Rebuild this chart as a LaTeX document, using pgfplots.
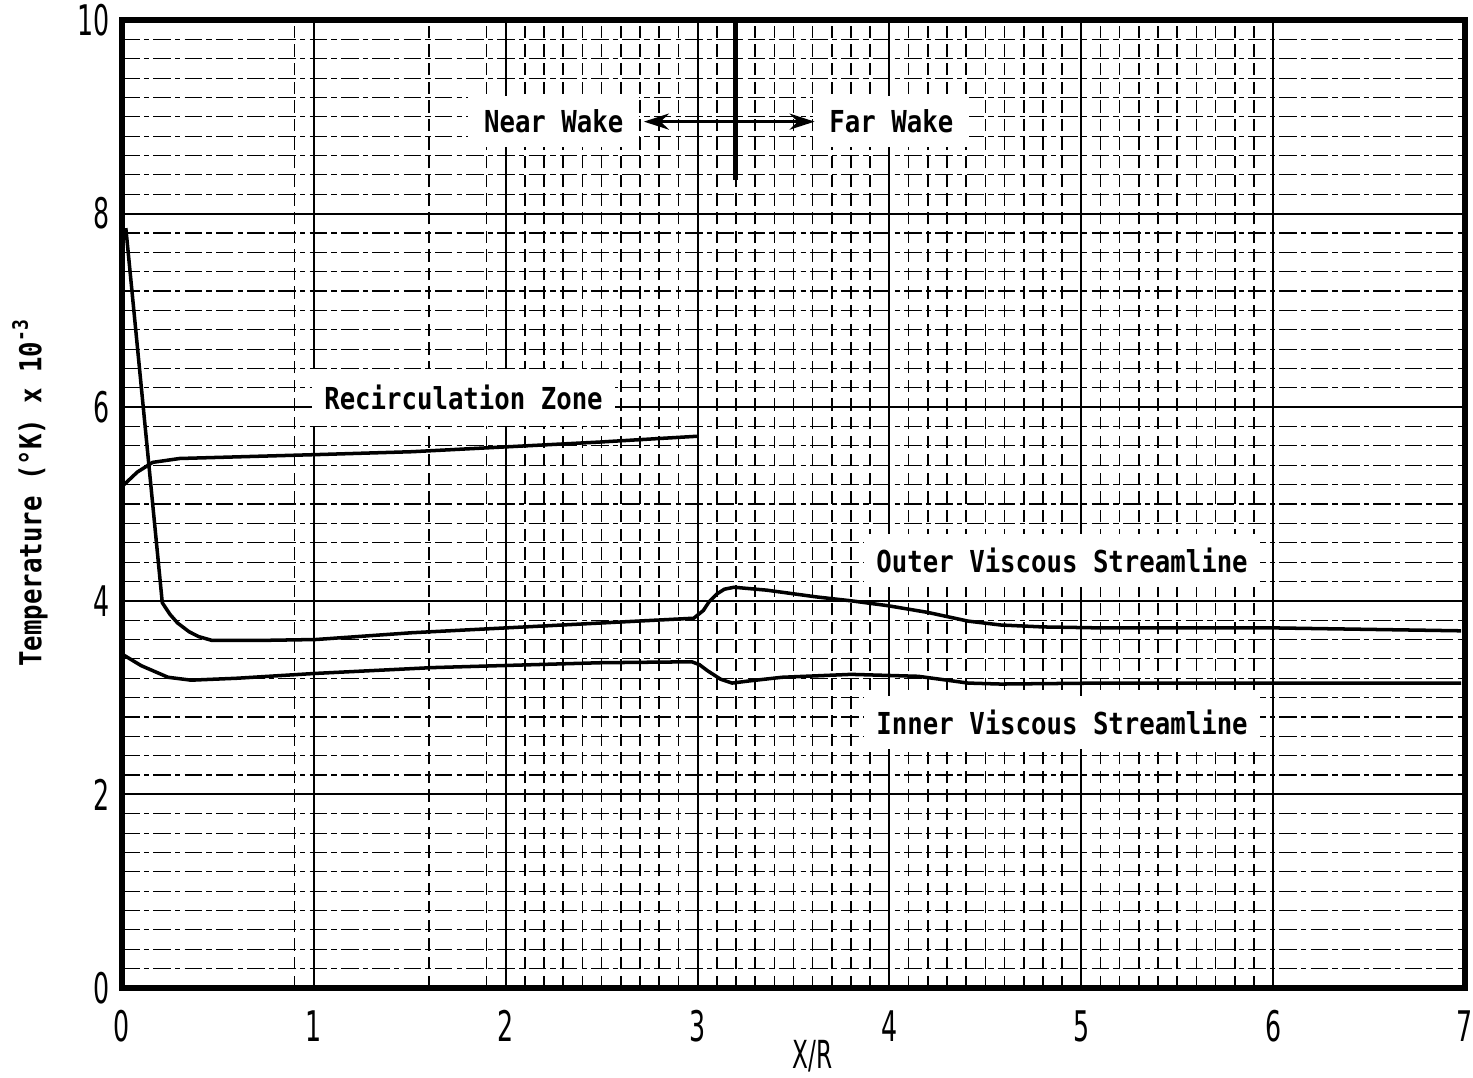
\documentclass[border=0pt]{standalone}
\usepackage{fontspec}
\usepackage{pgfplots}
\pgfplotsset{compat=1.18}
\usetikzlibrary{arrows.meta}
\newfontfamily\annot{DejaVu Sans Mono}[FakeStretch=0.85]
\newfontfamily\tickf{DejaVu Sans}[FakeStretch=0.6]
\newcommand\af{\annot\bfseries\fontsize{8.6}{10}\selectfont}
\newcommand\tf{\tickf\fontsize{12}{12}\selectfont}
\begin{document}
\begin{tikzpicture}
\path[use as bounding box] (-12.2mm,-8.9mm) rectangle (135.1mm,98.8mm);
\begin{axis}[
  at={(0,0)}, anchor=south west,
  width=134.3mm, height=96.8mm, scale only axis,
  xmin=0, xmax=7, ymin=0, ymax=10,
  xtick={0,...,7}, ytick={0,2,...,10},
  minor y tick num=9,
  grid=both,
  major grid style={black, line width=0.6pt},
  minor grid style={black, line width=0.32pt, dash pattern=on 5pt off 1.2pt on 1.5pt off 1.2pt},
  extra x ticks={0.9,1.6,1.9,2.1,2.2,2.3,2.4,2.5,2.6,2.7,2.8,2.9,3.1,3.2,3.3,3.4,3.5,3.6,3.7,3.8,3.9,4.1,4.2,4.3,4.4,4.5,4.6,4.7,4.8,4.9,5.1,5.2,5.3,5.4,5.5,5.6,5.7,5.8,5.9},
  extra x tick labels={},
  extra x tick style={grid=major, major grid style={black, line width=0.45pt, dash pattern=on 3.5pt off 1.8pt}},
  major tick length=0pt, minor tick length=0pt,
  axis line style={line width=1.8pt},
  /pgf/number format/assume math mode=true,
  ticklabel style={font=\tf},
  xticklabel style={yshift=-1.0mm},
  xlabel={X/R},
  xlabel style={font=\tickf\fontsize{11}{11}\selectfont, inner sep=0pt, at={(axis description cs:0.514,-0.083)}, anchor=base},
  ylabel={Temperature (°K) x 10\textsuperscript{-3}},
  ylabel style={font=\af, at={(axis description cs:-0.0685,0.512)}, anchor=center},
]
\addplot[black, line width=1pt] coordinates {
(0.02,7.85) (0.21,3.98) (0.25,3.86) (0.29,3.77) (0.35,3.68) (0.40,3.63) (0.47,3.59)
(0.70,3.59) (1.01,3.60) (1.51,3.67) (2.00,3.72) (2.49,3.77) (2.98,3.82) (3.03,3.90)
(3.06,3.99) (3.10,4.07) (3.14,4.12) (3.19,4.14) (3.36,4.11) (3.62,4.04) (3.80,4.00)
(3.99,3.95) (4.20,3.88) (4.41,3.79) (4.58,3.75) (4.80,3.73) (5.10,3.72) (6.00,3.72) (6.98,3.69)
};
\addplot[black, line width=1pt] coordinates {
(0.00,3.45) (0.10,3.33) (0.24,3.21) (0.36,3.18) (0.60,3.20) (1.01,3.25) (1.62,3.31)
(2.49,3.36) (2.97,3.37) (3.01,3.34) (3.05,3.28) (3.12,3.19) (3.18,3.15) (3.26,3.17)
(3.44,3.21) (3.80,3.24) (4.15,3.22) (4.30,3.18) (4.41,3.15) (4.58,3.14) (5.10,3.15) (6.98,3.15)
};
\addplot[black, line width=1pt] coordinates {
(0.00,5.18) (0.08,5.33) (0.16,5.43) (0.30,5.47) (1.01,5.51) (1.51,5.54) (2.49,5.64) (3.00,5.70)
};
\node[fill=white, inner xsep=1.6mm, inner ysep=1.4mm, font=\af] at (axis cs:2.25,8.95) {Near Wake};
\node[fill=white, inner xsep=1.6mm, inner ysep=1.4mm, font=\af] at (axis cs:4.01,8.95) {Far Wake};
\node[fill=white, inner xsep=1.2mm, inner ysep=1.6mm, font=\af] at (axis cs:1.78,6.10) {Recirculation Zone};
\node[fill=white, inner xsep=1.2mm, inner ysep=1.4mm, font=\af] at (axis cs:4.90,4.42) {Outer Viscous Streamline};
\node[fill=white, inner xsep=1.2mm, inner ysep=1.4mm, font=\af] at (axis cs:4.90,2.74) {Inner Viscous Streamline};
\draw[line width=1.4pt] (axis cs:3.2,10) -- (axis cs:3.2,8.35);
\draw[line width=1pt, {Stealth[length=2.5mm,width=1.6mm]}-{Stealth[length=2.5mm,width=1.6mm]}] (axis cs:2.72,8.95) -- (axis cs:3.61,8.95);
\end{axis}
\end{tikzpicture}
\end{document}
